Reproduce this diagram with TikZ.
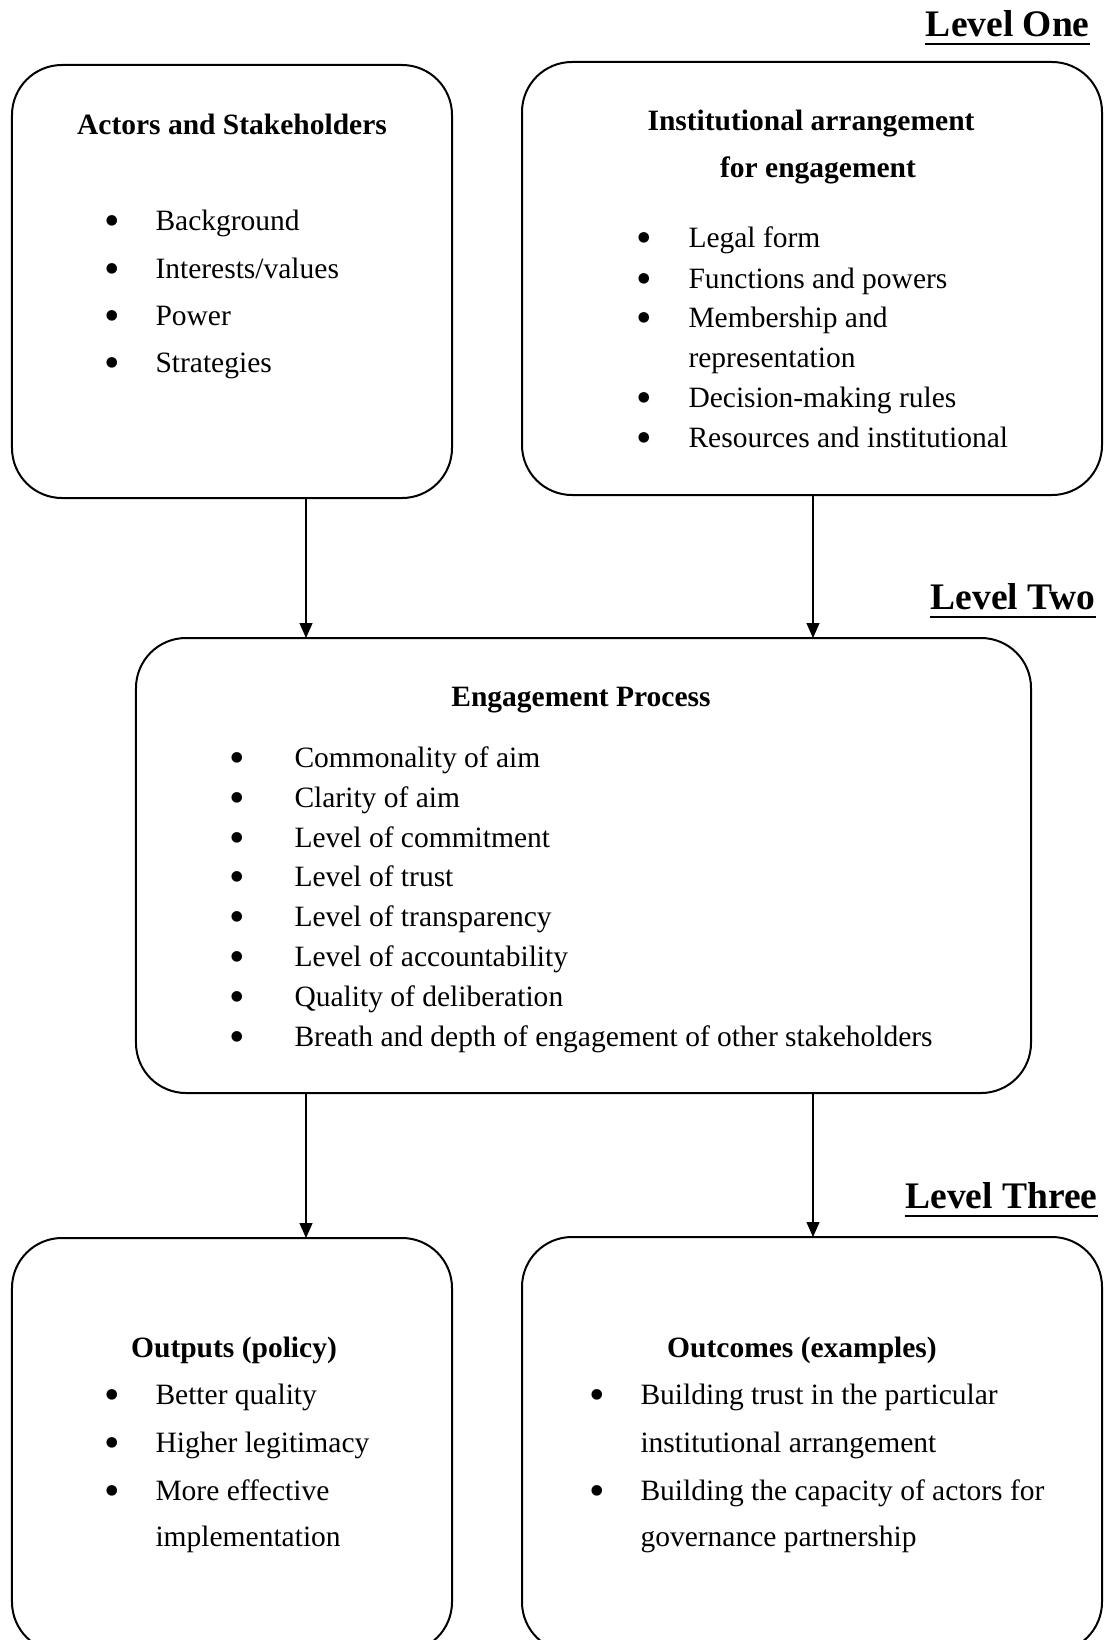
\documentclass[tikz,border=0pt]{standalone}
\usepackage{fontspec}
\setmainfont{Liberation Serif}
\usetikzlibrary{arrows.meta}
\newcommand\bul[1]{\makebox[#1][l]{\hspace{-1.2pt}\smash{\raisebox{-0.17em}{\scalebox{1.5}{\textbullet}}}}}

\tikzset{
	box/.style={draw, line width=0.8pt, rounded corners=20pt, inner sep=0pt, outer sep=0pt},
	head/.style={anchor=base, inner sep=0pt, font=\fontsize{11.8pt}{14pt}\selectfont\bfseries},
	item/.style={anchor=base west, inner sep=0pt, font=\fontsize{11.8pt}{14pt}\selectfont},
	level/.style={anchor=base east, inner sep=0pt, font=\fontsize{15pt}{18pt}\selectfont\bfseries},
	uline/.style={line width=0.8pt},
	arr/.style={-{Triangle[width=5.2pt,length=6pt]}, line width=0.5pt}
}

\begin{document}
\begin{tikzpicture}[x=0.4pt, y=-0.4pt]
			%%%%% START %%%%%
			\useasboundingbox (0,0) rectangle (1105,1640);
			
			\node[box, minimum width=176pt, minimum height=173.2pt] (actors) at (232,281.5) {};
			\node[box, minimum width=232pt, minimum height=173.2pt] (inst) at (812,278.5) {};
			\node[box, minimum width=358pt, minimum height=182pt] (process) at (583.5,865.5) {};
			\node[box, minimum width=176pt, minimum height=165.6pt] (outputs) at (232,1445) {};
			\node[box, minimum width=232pt, minimum height=166pt] (outcomes) at (812,1444.5) {};
			
			\node[level] (lvlone) at (1090,36) {Level One};
			\draw[uline] ([yshift=-3pt]lvlone.base west) -- ([yshift=-3pt]lvlone.base east);
			\node[level] (lvltwo) at (1096,609) {Level Two};
			\draw[uline] ([yshift=-3pt]lvltwo.base west) -- ([yshift=-3pt]lvltwo.base east);
			\node[level] (lvlthree) at (1098,1208) {Level Three};
			\draw[uline] ([yshift=-3pt]lvlthree.base west) -- ([yshift=-3pt]lvlthree.base east);
			
			% level one
			\node[head] (actorshead) at (232,134) {Actors and Stakeholders};
			\node[item] (a1) at (107,230) {\bul{19.2pt}Background};
			\node[item] (a2) at (107,278) {\bul{19.2pt}Interests/values};
			\node[item] (a3) at (107,325) {\bul{19.2pt}Power};
			\node[item] (a4) at (107,372) {\bul{19.2pt}Strategies};
			
			\node[head] (insthead) at (811,130) {Institutional arrangement};
			\node[head] (insthead2) at (818,177) {for engagement};
			\node[item] (b1) at (639,247) {\bul{19.6pt}Legal form};
			\node[item] (b2) at (639,288) {\bul{19.6pt}Functions and powers};
			\node[item] (b3) at (639,327) {\bul{19.6pt}Membership and};
			\node[item] (b3b) at (688,367) {representation};
			\node[item] (b4) at (639,407) {\bul{19.6pt}Decision-making rules};
			\node[item] (b5) at (639,447) {\bul{19.6pt}Resources and institutional};
			
			% level two
			\node[head] (processhead) at (581,706) {Engagement Process};
			\node[item] (c1) at (232,767) {\bul{24.8pt}Commonality of aim};
			\node[item] (c2) at (232,807) {\bul{24.8pt}Clarity of aim};
			\node[item] (c3) at (232,847) {\bul{24.8pt}Level of commitment};
			\node[item] (c4) at (232,886) {\bul{24.8pt}Level of trust};
			\node[item] (c5) at (232,926) {\bul{24.8pt}Level of transparency};
			\node[item] (c6) at (232,966) {\bul{24.8pt}Level of accountability};
			\node[item] (c7) at (232,1006) {\bul{24.8pt}Quality of deliberation};
			\node[item] (c8) at (232,1046) {\bul{24.8pt}Breath and depth of engagement of other stakeholders};
			
			% level three
			\node[head] (outputshead) at (234,1357) {Outputs (policy)};
			\node[item] (d1) at (107,1404) {\bul{19.2pt}Better quality};
			\node[item] (d2) at (107,1452) {\bul{19.2pt}Higher legitimacy};
			\node[item] (d3) at (107,1500) {\bul{19.2pt}More effective};
			\node[item] (d3b) at (155,1546) {implementation};
			
			\node[head] (outcomeshead) at (802,1357) {Outcomes (examples)};
			\node[item] (e1) at (592,1404) {\bul{19.2pt}Building trust in the particular};
			\node[item] (e1b) at (640,1452) {institutional arrangement};
			\node[item] (e2) at (592,1500) {\bul{19.2pt}Building the capacity of actors for};
			\node[item] (e2b) at (640,1546) {governance partnership};
			
			% arrows
			\coordinate (colL) at (306,0);
			\coordinate (colR) at (813,0);
			\draw[arr] (colL |- actors.south) -- (colL |- process.north);
			\draw[arr] (colR |- inst.south) -- (colR |- process.north);
			\draw[arr] (colL |- process.south) -- (colL |- outputs.north);
			\draw[arr] (colR |- process.south) -- (colR |- outcomes.north);
			
			%%%%% END %%%%%
\end{tikzpicture}
\end{document}
